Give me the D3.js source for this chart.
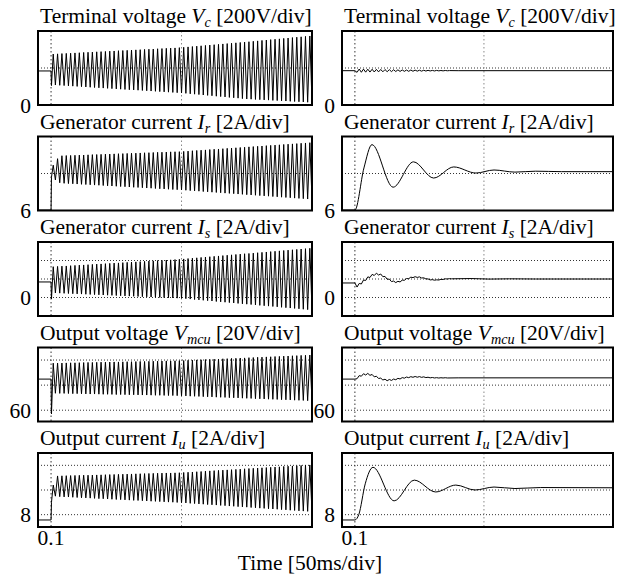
<!DOCTYPE html>
<html>
<head>
<meta charset="utf-8">
<script src="https://cdn.jsdelivr.net/npm/d3@7"></script>
<style>
  body { margin: 0; background: #fff; }
  svg { display: block; }
  text { font-family: "Liberation Serif", "Times New Roman", serif; }
</style>
</head>
<body>
<svg id="chart"></svg>
<script>
// ------------------------------------------------------------
// Five stacked scope traces, unstable case (left) and
// stabilised case (right). Time runs from just before 0.1 s.
// ------------------------------------------------------------

// Panel titles: name, italic symbol, subscript, scale
const titleName = ["Terminal voltage", "Generator current", "Generator current", "Output voltage", "Output current"];
const titleSym = ["V", "I", "I", "V", "I"];
const titleSub = ["c", "r", "s", "mcu", "u"];
const titleScale = ["[200V/div]", "[2A/div]", "[2A/div]", "[20V/div]", "[2A/div]"];

// Vertical range of each panel, its tick label and its dotted grid levels
const yDomains = [[0, 800], [6, 14], [-2, 6], [51, 110], [7, 13]];
const yTickLabel = [0, 6, 0, 60, 8];
const yGrid = [[400], [10], [0, 2, 4], [60, 80, 100], [8, 10, 12]];

// Time axis
const timeDomain = [0.095, 0.2];
const timeGrid = [0.1, 0.15];
const timeTicks = [0.1];
const tStart = 0.1;
const tEnd = 0.2;
const cycles = 60; // oscillation cycles counted in the left panels

// ---------- left column: growing oscillation ----------
// level before 0.1 s and first point after the step
const preLevel = [368, 6.05, 1.68, 84.8, 7.57];
const leadLevel = [210, 9.6, -0.16, 57, 9.0];

// peak and trough of each cycle
const upperVc = [551,553,556,558,560,563,565,568,570,572,575,577,579,582,584,587,589,591,594,596,598,601,603,605,608,610,613,615,617,620,
  624,628,632,636,640,644,648,652,656,660,664,668,672,676,680,684,689,693,698,702,707,711,715,720,724,729,733,737,742,746];
const lowerVc = [216,213,210,207,204,201,198,195,192,189,186,183,180,177,174,171,168,165,163,160,157,154,151,148,145,142,139,136,133,130,
  126,121,117,113,108,104,100,95,91,87,82,78,74,69,65,63,60,58,55,53,50,48,45,43,40,38,35,33,30,28];

const upperIr = [10.9,11.6,11.92,11.94,11.95,11.97,11.99,12.0,12.02,12.04,12.05,12.07,12.09,12.1,12.12,12.14,12.15,12.17,12.19,12.2,12.22,12.24,12.25,12.27,12.29,12.3,12.32,12.34,12.35,12.36,
  12.39,12.42,12.46,12.49,12.52,12.55,12.59,12.62,12.65,12.68,12.72,12.75,12.78,12.81,12.84,12.88,12.91,12.94,12.97,13.01,13.04,13.07,13.1,13.14,13.17,13.2,13.23,13.27,13.3,13.33];
const lowerIr = [9.3,9.0,8.94,8.91,8.89,8.86,8.83,8.81,8.78,8.75,8.73,8.7,8.67,8.65,8.62,8.59,8.57,8.54,8.51,8.49,8.46,8.43,8.41,8.38,8.35,8.33,8.3,8.27,8.25,8.22,
  8.19,8.15,8.12,8.09,8.05,8.02,7.98,7.95,7.92,7.88,7.85,7.82,7.78,7.75,7.71,7.68,7.65,7.61,7.58,7.55,7.51,7.48,7.44,7.41,7.38,7.34,7.31,7.28,7.24,7.21];

const upperIs = [3.33,3.36,3.39,3.41,3.44,3.47,3.5,3.52,3.55,3.58,3.61,3.63,3.66,3.69,3.72,3.74,3.77,3.8,3.83,3.85,3.88,3.91,3.94,3.96,3.99,4.02,4.05,4.07,4.1,4.13,
  4.17,4.21,4.25,4.29,4.33,4.37,4.41,4.45,4.49,4.53,4.57,4.61,4.65,4.69,4.73,4.76,4.8,4.84,4.88,4.92,4.96,5.0,5.04,5.08,5.12,5.16,5.2,5.24,5.28,5.32];
const lowerIs = [0.49,0.47,0.45,0.43,0.41,0.39,0.37,0.35,0.33,0.31,0.29,0.27,0.25,0.23,0.21,0.19,0.17,0.15,0.13,0.11,0.09,0.07,0.05,0.03,0.01,-0.01,-0.03,-0.05,-0.07,-0.09,
  -0.13,-0.17,-0.22,-0.26,-0.3,-0.34,-0.38,-0.43,-0.47,-0.51,-0.55,-0.59,-0.64,-0.68,-0.72,-0.76,-0.8,-0.85,-0.89,-0.93,-0.97,-1.01,-1.06,-1.1,-1.14,-1.18,-1.22,-1.27,-1.31,-1.35];

const upperVm = [97.5,97.6,97.6,97.7,97.8,97.8,97.9,98.0,98.1,98.1,98.2,98.3,98.3,98.4,98.5,98.5,98.6,98.7,98.7,98.8,98.9,98.9,99.0,99.1,99.1,99.2,99.3,99.3,99.4,99.5,
  99.6,99.8,99.9,100.1,100.2,100.4,100.5,100.7,100.8,101.0,101.1,101.3,101.4,101.6,101.7,101.9,102.0,102.2,102.3,102.5,102.6,102.8,102.9,103.1,103.2,103.4,103.5,103.7,103.8,104.0];
const lowerVm = [73.5,73.4,73.4,73.3,73.2,73.2,73.1,73.0,72.9,72.9,72.8,72.7,72.7,72.6,72.5,72.5,72.4,72.3,72.3,72.2,72.1,72.1,72.0,71.9,71.9,71.8,71.7,71.7,71.6,71.5,
  71.4,71.2,71.1,71.0,70.8,70.7,70.6,70.4,70.3,70.2,70.0,69.9,69.8,69.6,69.5,69.4,69.2,69.1,69.0,68.8,68.7,68.6,68.4,68.3,68.2,68.0,67.9,67.8,67.6,67.5];

const upperIu = [10.4,11.14,11.15,11.16,11.17,11.18,11.19,11.2,11.2,11.21,11.22,11.23,11.24,11.25,11.26,11.27,11.28,11.29,11.3,11.31,11.32,11.33,11.34,11.35,11.36,11.37,11.38,11.38,11.39,11.4,
  11.42,11.44,11.46,11.48,11.5,11.53,11.55,11.57,11.59,11.61,11.63,11.65,11.67,11.69,11.72,11.74,11.76,11.78,11.8,11.82,11.84,11.86,11.88,11.91,11.93,11.95,11.97,11.99,12.01,12.03];
const lowerIu = [9.5,9.46,9.44,9.43,9.41,9.39,9.37,9.36,9.34,9.32,9.3,9.29,9.27,9.25,9.23,9.22,9.2,9.18,9.16,9.15,9.13,9.11,9.09,9.08,9.06,9.04,9.02,9.01,8.99,8.97,
  8.95,8.92,8.9,8.87,8.85,8.82,8.8,8.78,8.75,8.73,8.7,8.68,8.65,8.63,8.61,8.58,8.56,8.53,8.51,8.48,8.46,8.44,8.41,8.39,8.36,8.34,8.31,8.29,8.27,8.24];

const upperAll = [upperVc, upperIr, upperIs, upperVm, upperIu];
const lowerAll = [lowerVc, lowerIr, lowerIs, lowerVm, lowerIu];

// ---------- right column: damped response ----------
// ripple traces sampled every half ripple period from 0.1 s, then a settled tail
const rippleVc = [371,353,389,354,388,355,387,356,386,357,385,358,384,359,383,360,382,361,381,362,380,363,379,364,378,364,378,365,377,366,376,366,376,367,375,368,374,368,374,369,373,369,373,370,372];
const tailVc = [[0.14, 371], [0.2, 371]];

const rippleIs = [1.57,1.13,1.52,1.46,1.89,1.84,2.23,2.16,2.50,2.38,2.63,2.43,2.54,2.25,2.28,1.97,1.99,1.72,1.78,1.61,1.75,1.68,1.88,1.86,2.05,2.03,2.20,2.15,2.25,2.17,2.23,2.11,2.13,2.01,2.01,1.90,1.93,1.87,1.91,1.89,1.96,1.95,2.02,2.00,2.04,2.02];
const tailIs = [[0.145, 2.05], [0.152, 1.99], [0.16, 2.02], [0.17, 2.0], [0.2, 2.0]];

const rippleVm = [84.8,85.1,87.6,87.1,89.1,88.05,89.35,87.8,88.5,86.6,87.1,85.3,85.6,84.1,84.7,83.5,84.5,83.75,84.85,84.3,85.4,84.9,86.0,85.55,86.45,85.95,86.75,86.25,86.9,86.3,86.8,86.2,86.6,86.0,86.3,85.8,86.1,85.7,85.95,85.65,85.9,85.7,85.9,85.7];
const tailVm = [[0.14, 85.8], [0.2, 85.8]];

// smooth traces: [time, value] at turning points
const smoothIr = [[0.095, 6.05], [0.1, 6.05], [0.1035, 10.6], [0.1066, 13.12], [0.1148, 8.52], [0.1227, 11.26], [0.1305, 9.51],
  [0.1383, 10.71], [0.1469, 10.05], [0.1539, 10.38], [0.162, 10.15], [0.17, 10.25], [0.18, 10.2], [0.2, 10.2]];
const smoothIu = [[0.095, 7.57], [0.1, 7.57], [0.1015, 8.0], [0.104, 10.5], [0.107, 11.84], [0.1152, 9.12], [0.1230, 10.8], [0.1313, 9.84],
  [0.1391, 10.4], [0.1465, 10.0], [0.1539, 10.24], [0.162, 10.12], [0.172, 10.2], [0.2, 10.18]];

// ------------------------------------------------------------

const width = 625;
const height = 575;

const svg = d3.select("#chart")
  .attr("width", width)
  .attr("height", height);

const panelTop = 31;
const panelStep = 105.5;
const panelH = 74;
const columns = [[38, 312], [342, 613]];
const fontSize = 21.5;

const xScales = columns.map(r => d3.scaleLinear().domain(timeDomain).range(r));
const halfStep = (tEnd - tStart) / cycles / 2;

// Build the zig-zag of the left column from the per-cycle extremes.
function unstablePoints(i) {
  const pts = [[timeDomain[0], preLevel[i]], [tStart, preLevel[i]], [tStart + halfStep * 0.2, leadLevel[i]]];
  upperAll[i].forEach((u, c) => {
    pts.push([tStart + (2 * c + 1) * halfStep, u]);
    pts.push([tStart + (2 * c + 2) * halfStep, lowerAll[i][c]]);
  });
  return pts;
}

// Ripple samples on the half-period grid, followed by the tail.
function ripplePoints(vals, tail) {
  const pts = [[timeDomain[0], vals[0]]];
  vals.forEach((v, k) => pts.push([tStart + k * halfStep, v]));
  return pts.concat(tail);
}

const rightTraces = [
  { pts: ripplePoints(rippleVc, tailVc), curve: d3.curveLinear },
  { pts: smoothIr, curve: d3.curveMonotoneX },
  { pts: ripplePoints(rippleIs, tailIs), curve: d3.curveLinear },
  { pts: ripplePoints(rippleVm, tailVm), curve: d3.curveLinear },
  { pts: smoothIu, curve: d3.curveMonotoneX }
];

for (let i = 0; i < 5; i++) {
  const top = panelTop + i * panelStep;
  const y = d3.scaleLinear().domain(yDomains[i]).range([top + panelH, top]);

  columns.forEach((range, side) => {
    const x = xScales[side];
    const g = svg.append("g");

    // clip for the trace
    const clipId = `clip-${i}-${side}`;
    svg.append("clipPath").attr("id", clipId)
      .append("rect")
      .attr("x", range[0]).attr("y", top)
      .attr("width", range[1] - range[0]).attr("height", panelH);

    // title
    const title = g.append("text")
      .attr("x", range[0] + 2)
      .attr("y", top - 8)
      .attr("font-size", fontSize);
    title.append("tspan").text(titleName[i] + " ");
    title.append("tspan").attr("font-style", "italic").text(titleSym[i]);
    title.append("tspan").attr("font-style", "italic").attr("font-size", fontSize * 0.66)
      .attr("dy", 4).text(titleSub[i]);
    title.append("tspan").attr("dy", -4).text(" " + titleScale[i]);

    // dotted grid
    g.selectAll(".hgrid")
      .data(yGrid[i])
      .enter().append("line")
      .attr("x1", range[0]).attr("x2", range[1])
      .attr("y1", d => y(d)).attr("y2", d => y(d))
      .attr("stroke", "#333").attr("stroke-width", 1)
      .attr("stroke-dasharray", "1,2");

    g.selectAll(".vgrid")
      .data(timeGrid)
      .enter().append("line")
      .attr("x1", d => x(d)).attr("x2", d => x(d))
      .attr("y1", top).attr("y2", top + panelH)
      .attr("stroke", (d, k) => k === 0 ? "#333" : "#888").attr("stroke-width", 1)
      .attr("stroke-dasharray", "1.5,2.5");

    // trace
    const pts = side === 0 ? unstablePoints(i) : rightTraces[i].pts;
    const curve = side === 0 ? d3.curveLinear : rightTraces[i].curve;
    const line = d3.line().x(d => x(d[0])).y(d => y(d[1])).curve(curve);
    g.append("path")
      .datum(pts)
      .attr("clip-path", `url(#${clipId})`)
      .attr("fill", "none")
      .attr("stroke", "#000")
      .attr("stroke-width", 1)
      .attr("d", line);

    // frame
    g.append("rect")
      .attr("x", range[0]).attr("y", top)
      .attr("width", range[1] - range[0]).attr("height", panelH)
      .attr("fill", "none").attr("stroke", "#000").attr("stroke-width", 2);

    // value label at the left of the frame
    g.append("text")
      .attr("x", range[0] - 7)
      .attr("y", y(yTickLabel[i]))
      .attr("dy", "0.35em")
      .attr("text-anchor", "end")
      .attr("font-size", fontSize)
      .text(yTickLabel[i]);

    // time tick labels under the last panel
    if (i === 4) {
      g.selectAll(".tlabel")
        .data(timeTicks)
        .enter().append("text")
        .attr("x", d => x(d))
        .attr("y", top + panelH + 18)
        .attr("text-anchor", "middle")
        .attr("font-size", fontSize)
        .text(d => d);
    }
  });
}

// shared time axis title
svg.append("text")
  .attr("x", 310)
  .attr("y", 570)
  .attr("text-anchor", "middle")
  .attr("font-size", fontSize)
  .text("Time [50ms/div]");
</script>
</body>
</html>
